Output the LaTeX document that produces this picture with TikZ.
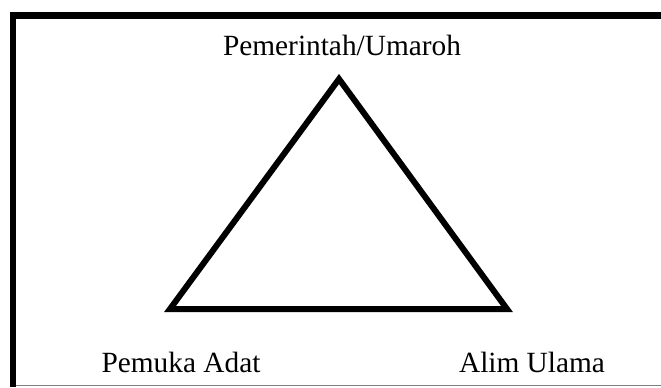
\documentclass[tikz,border=0pt]{standalone}
\usepackage{fontspec}
\setmainfont{Liberation Serif}
\usetikzlibrary{positioning}
\tikzset{
  frameline/.style={line width=4.8pt},
  edgeline/.style={line width=4.5pt, line join=miter},
  label/.style={font=\fontsize{22}{26}\selectfont, anchor=base, inner sep=0pt}
}

\begin{document}
\begin{tikzpicture}[x=0.75pt,y=-0.75pt]
\useasboundingbox (0,0) rectangle (661,387);
% frame
\draw[frameline] (13,387) -- (13,15.5) -- (661,15.5);
\draw[gray, line width=0.9pt] (16,385.5) -- (661,385.5);
% corners
\coordinate (umaroh) at (339,79);
\coordinate (adat) at (170,309);
\coordinate (ulama) at (507,309);
\draw[edgeline] (umaroh) -- (adat) -- (ulama) -- cycle;
% labels
\node[label] (top) at (342,55) {Pemerintah/Umaroh};
\node[label] (left) at (181,372) {Pemuka Adat};
\node[label] (right) at (532,372) {Alim Ulama};
\end{tikzpicture}
\end{document}
